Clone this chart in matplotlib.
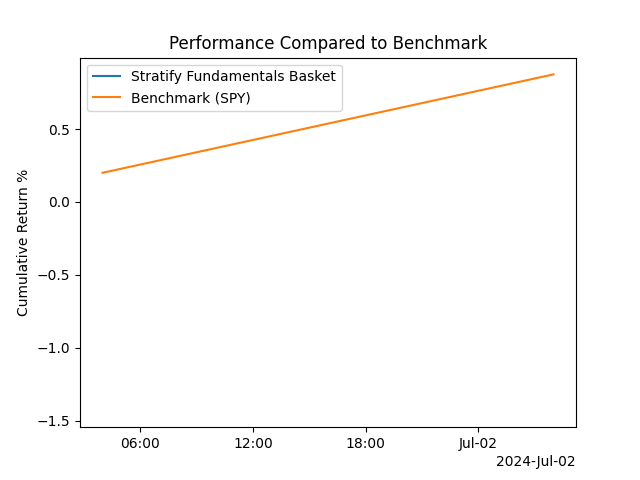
import numpy as np
import pandas as pd
import matplotlib
matplotlib.use("Agg")
import matplotlib.pyplot as plt
import matplotlib.dates as mdates

# dates and cumulative returns
dates = pd.to_datetime(["2024-07-01 04:00", "2024-07-02 04:00"])
basket_returns = [-1.43, np.nan]   # only one valid point, so no visible line
spy_returns = [0.20, 0.875]

fig, ax = plt.subplots(figsize=(6.4, 4.8), dpi=100)

ax.plot(dates, basket_returns, label="Stratify Fundamentals Basket")
ax.plot(dates, spy_returns, label="Benchmark (SPY)")

locator = mdates.HourLocator(byhour=[0, 6, 12, 18])
ax.xaxis.set_major_locator(locator)
ax.xaxis.set_major_formatter(mdates.ConciseDateFormatter(locator))

ax.set_title("Performance Compared to Benchmark")
ax.set_ylabel("Cumulative Return %")
ax.legend(loc="upper left")

plt.savefig("out.png", dpi=100)
